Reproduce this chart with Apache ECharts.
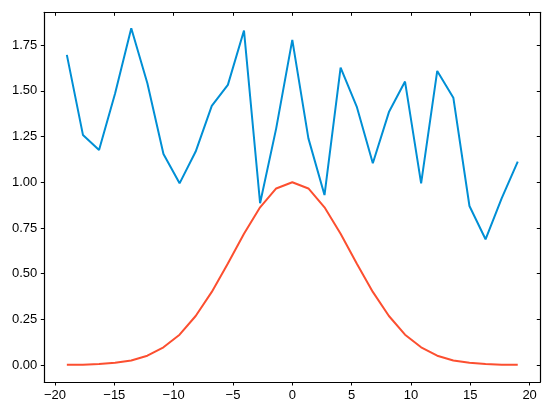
<!DOCTYPE html>
<html>
<head>
<meta charset="utf-8">
<script src="https://cdn.jsdelivr.net/npm/echarts@6/dist/echarts.min.js"></script>
<style>
html, body { margin: 0; padding: 0; background: #fff; }
#chart { width: 552px; height: 413px; }
</style>
</head>
<body>
<div id="chart"></div>
<script>
// x positions of the samples
let xs = [-19, -17.643, -16.286, -14.929, -13.571, -12.214, -10.857, -9.5, -8.143, -6.786,
    -5.429, -4.071, -2.714, -1.357, 0, 1.357, 2.714, 4.071, 5.429, 6.786,
    8.143, 9.5, 10.857, 12.214, 13.571, 14.929, 16.286, 17.643, 19]
// blue noisy line
let noisy = [1.697, 1.259, 1.177, 1.487, 1.843, 1.542, 1.155, 0.994, 1.168, 1.418,
    1.533, 1.830, 0.885, 1.295, 1.779, 1.240, 0.930, 1.627, 1.414, 1.104,
    1.384, 1.551, 0.994, 1.609, 1.463, 0.870, 0.688, 0.912, 1.113]
// red bell curve
let bell = [0.001, 0.002, 0.005, 0.012, 0.025, 0.051, 0.097, 0.166, 0.268, 0.400,
    0.555, 0.718, 0.863, 0.966, 1.0, 0.966, 0.863, 0.718, 0.555, 0.400,
    0.268, 0.166, 0.097, 0.051, 0.025, 0.012, 0.005, 0.002, 0.001]
let xTicks = [-20, -15, -10, -5, 0, 5, 10, 15, 20]
let yTicks = [0, 0.25, 0.5, 0.75, 1.0, 1.25, 1.5, 1.75]

let font = 'Liberation Sans'
let spine = { show: true, onZero: false, lineStyle: { color: '#000', width: 1.2 } }

function pairs(ys) {
    return xs.map(function (x, i) { return [x, ys[i]] })
}

let chart = echarts.init(document.getElementById('chart'), null, { renderer: 'canvas' })
chart.setOption({
    animation: false,
    backgroundColor: '#fff',
    grid: { left: 44.3, right: 11.7, top: 12.3, bottom: 31 },
    xAxis: [
        {
            type: 'value', position: 'bottom', min: -20.9, max: 20.9,
            splitLine: { show: false },
            axisLine: spine,
            axisTick: { show: true, customValues: xTicks, length: 3.5, lineStyle: { color: '#000', width: 1 } },
            axisLabel: {
                customValues: xTicks, margin: 7, color: '#000', fontFamily: font, fontSize: 13,
                formatter: function (v) { return String(v).replace('-', '\u2212') }
            }
        },
        {
            type: 'value', position: 'top', min: -20.9, max: 20.9,
            splitLine: { show: false },
            axisLine: spine,
            axisTick: { show: true, inside: true, customValues: xTicks, length: 3.5, lineStyle: { color: '#000', width: 1 } },
            axisLabel: { show: false }
        }
    ],
    yAxis: [
        {
            type: 'value', position: 'left', min: -0.093, max: 1.93,
            splitLine: { show: false },
            axisLine: spine,
            axisTick: { show: true, customValues: yTicks, length: 3.5, lineStyle: { color: '#000', width: 1 } },
            axisLabel: {
                customValues: yTicks, margin: 7, color: '#000', fontFamily: font, fontSize: 13,
                formatter: function (v) { return v.toFixed(2) }
            }
        },
        {
            type: 'value', position: 'right', min: -0.093, max: 1.93,
            splitLine: { show: false },
            axisLine: spine,
            axisTick: { show: true, inside: true, customValues: yTicks, length: 3.5, lineStyle: { color: '#000', width: 1 } },
            axisLabel: { show: false }
        }
    ],
    series: [
        {
            type: 'line', data: pairs(noisy), xAxisIndex: 0, yAxisIndex: 0,
            showSymbol: false, symbol: 'none',
            lineStyle: { color: '#008fd5', width: 2 }
        },
        {
            type: 'line', data: pairs(bell), xAxisIndex: 0, yAxisIndex: 0,
            showSymbol: false, symbol: 'none',
            lineStyle: { color: '#fc4f30', width: 2 }
        }
    ]
})
</script>
</body>
</html>
